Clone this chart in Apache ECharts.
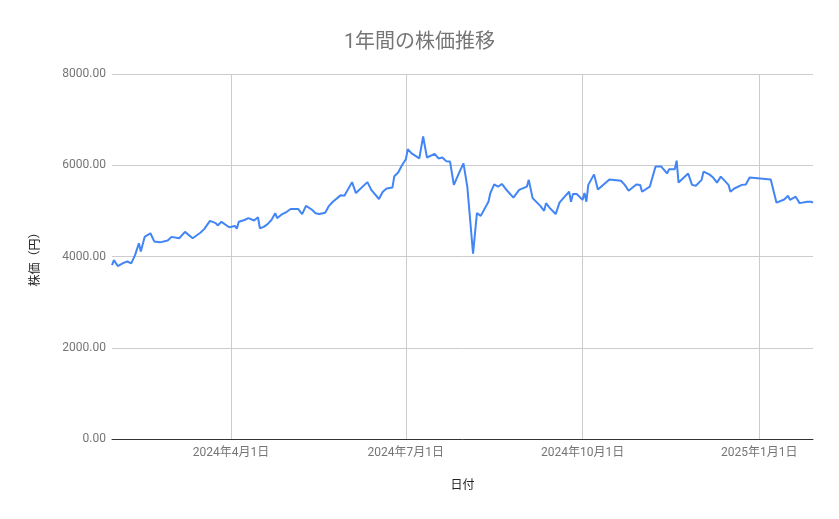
<!DOCTYPE html>
<html>
<head>
<meta charset="utf-8">
<script src="https://cdn.jsdelivr.net/npm/echarts@6/dist/echarts.min.js"></script>
<style>
  html, body { margin: 0; padding: 0; background: #fff; }
  #chart { width: 839px; height: 519px; }
</style>
</head>
<body>
<div id="chart"></div>
<script>
// 日付
const dates = [
    '2024-01-30', '2024-01-31', '2024-02-02', '2024-02-05', '2024-02-07', '2024-02-09', '2024-02-11', '2024-02-13',
    '2024-02-14', '2024-02-16', '2024-02-19', '2024-02-21', '2024-02-24', '2024-02-28', '2024-03-01', '2024-03-05',
    '2024-03-08', '2024-03-12', '2024-03-16', '2024-03-18', '2024-03-21', '2024-03-24', '2024-03-25', '2024-03-27',
    '2024-03-31', '2024-04-03', '2024-04-04', '2024-04-05', '2024-04-08', '2024-04-10', '2024-04-13', '2024-04-15',
    '2024-04-16', '2024-04-18', '2024-04-20', '2024-04-22', '2024-04-24', '2024-04-25', '2024-04-27', '2024-04-30',
    '2024-05-02', '2024-05-06', '2024-05-08', '2024-05-10', '2024-05-13', '2024-05-15', '2024-05-17', '2024-05-20',
    '2024-05-22', '2024-05-24', '2024-05-25', '2024-05-28', '2024-05-30', '2024-06-03', '2024-06-05', '2024-06-11',
    '2024-06-13', '2024-06-17', '2024-06-19', '2024-06-21', '2024-06-24', '2024-06-25', '2024-06-27', '2024-06-29',
    '2024-07-01', '2024-07-02', '2024-07-04', '2024-07-08', '2024-07-10', '2024-07-12', '2024-07-16', '2024-07-18',
    '2024-07-20', '2024-07-22', '2024-07-24', '2024-07-26', '2024-07-29', '2024-07-31', '2024-08-02', '2024-08-05',
    '2024-08-07', '2024-08-09', '2024-08-13', '2024-08-14', '2024-08-16', '2024-08-18', '2024-08-20', '2024-08-22',
    '2024-08-23', '2024-08-26', '2024-08-29', '2024-09-02', '2024-09-03', '2024-09-05', '2024-09-09', '2024-09-11',
    '2024-09-12', '2024-09-14', '2024-09-17', '2024-09-19', '2024-09-21', '2024-09-24', '2024-09-25', '2024-09-26',
    '2024-09-28', '2024-10-01', '2024-10-02', '2024-10-03', '2024-10-04', '2024-10-05', '2024-10-07', '2024-10-09',
    '2024-10-15', '2024-10-16', '2024-10-21', '2024-10-23', '2024-10-25', '2024-10-29', '2024-10-31', '2024-11-01',
    '2024-11-05', '2024-11-08', '2024-11-11', '2024-11-12', '2024-11-14', '2024-11-15', '2024-11-18', '2024-11-19',
    '2024-11-20', '2024-11-25', '2024-11-27', '2024-11-29', '2024-12-02', '2024-12-03', '2024-12-06', '2024-12-08',
    '2024-12-10', '2024-12-12', '2024-12-16', '2024-12-17', '2024-12-19', '2024-12-23', '2024-12-25', '2024-12-27',
    '2025-01-07', '2025-01-08', '2025-01-10', '2025-01-14', '2025-01-16', '2025-01-17', '2025-01-20', '2025-01-22',
    '2025-01-26', '2025-01-28', '2025-01-29'
]

// 株価（円）
const prices = [
    3810, 3920, 3790, 3860, 3890, 3850, 4030, 4290,
    4110, 4430, 4510, 4330, 4310, 4350, 4430, 4400,
    4540, 4400, 4520, 4600, 4780, 4730, 4680, 4760,
    4640, 4670, 4610, 4760, 4800, 4840, 4790, 4860,
    4620, 4650, 4710, 4800, 4950, 4840, 4910, 4980,
    5040, 5040, 4930, 5110, 5030, 4950, 4930, 4960,
    5110, 5200, 5180, 5340, 5330, 5630, 5390, 5630,
    5460, 5260, 5420, 5490, 5510, 5760, 5840, 6000,
    6130, 6350, 6260, 6150, 6630, 6170, 6250, 6150,
    6170, 6090, 6080, 5570, 5860, 6040, 5530, 4060,
    4950, 4890, 5200, 5390, 5580, 5530, 5590, 5480,
    5440, 5290, 5460, 5530, 5680, 5280, 5110, 5000,
    5170, 5060, 4930, 5180, 5280, 5420, 5200, 5370,
    5370, 5240, 5390, 5200, 5570, 5580, 5800, 5470,
    5690, 5700, 5660, 5570, 5440, 5580, 5570, 5420,
    5530, 5970, 5970, 5980, 5820, 5910, 5910, 6100,
    5620, 5820, 5570, 5550, 5680, 5860, 5800, 5730,
    5620, 5750, 5570, 5420, 5490, 5570, 5580, 5730,
    5690, 5710, 5180, 5250, 5330, 5240, 5310, 5170,
    5200, 5200, 5180
]

const xTicks = ['2024-04-01', '2024-07-01', '2024-10-01', '2025-01-01']
const yTicks = [0, 2000, 4000, 6000, 8000]

const toTime = s => echarts.number.parseDate(s).getTime()

initChart()

function initChart() {
    let myChart = echarts.init(document.getElementById('chart'))
    const seriesData = dates.map((d, i) => [toTime(d), prices[i]])
    const tickTimes = xTicks.map(toTime)

    const option = {
        animation: false,
        textStyle: {
            fontFamily: 'Roboto, "Noto Sans CJK JP", sans-serif'
        },
        title: {
            text: '1年間の株価推移',
            left: 'center',
            top: 28,
            textStyle: {
                color: '#757575',
                fontSize: 20,
                fontWeight: 'normal',
                fontFamily: 'Roboto, "Noto Sans CJK JP", sans-serif'
            }
        },
        grid: {
            left: 112,
            right: 26,
            top: 74,
            bottom: 80
        },
        xAxis: {
            // timestamps on a value axis so the quarter ticks can be set exactly
            type: 'value',
            min: toTime('2024-01-30'),
            max: toTime('2025-01-29'),
            name: '日付',
            nameLocation: 'middle',
            nameGap: 41,
            nameTextStyle: { color: '#222', fontSize: 12 },
            axisLine: { lineStyle: { color: '#333', width: 1 } },
            axisTick: { show: false, customValues: tickTimes },
            axisLabel: {
                customValues: tickTimes,
                color: '#757575',
                fontSize: 12,
                margin: 8,
                formatter: function (val) {
                    const d = new Date(val)
                    return `${d.getFullYear()}年${d.getMonth() + 1}月${d.getDate()}日`
                }
            },
            splitLine: { show: true, lineStyle: { color: '#cccccc', width: 1 } }
        },
        yAxis: {
            type: 'value',
            min: yTicks[0],
            max: yTicks[yTicks.length - 1],
            interval: 2000,
            name: '株価（円）',
            nameLocation: 'middle',
            nameGap: 70,
            nameTextStyle: { color: '#222', fontSize: 12 },
            axisLine: { show: false },
            axisTick: { show: false },
            axisLabel: {
                color: '#757575',
                fontSize: 12,
                margin: 6,
                formatter: v => v.toFixed(2)
            },
            splitLine: { lineStyle: { color: '#cccccc', width: 1 } }
        },
        series: [
            {
                name: '株価',
                type: 'line',
                data: seriesData,
                showSymbol: false,
                symbol: 'none',
                lineStyle: { color: '#4285f4', width: 2 },
                itemStyle: { color: '#4285f4' }
            }
        ]
    }
    myChart.setOption(option)
}
</script>
</body>
</html>
